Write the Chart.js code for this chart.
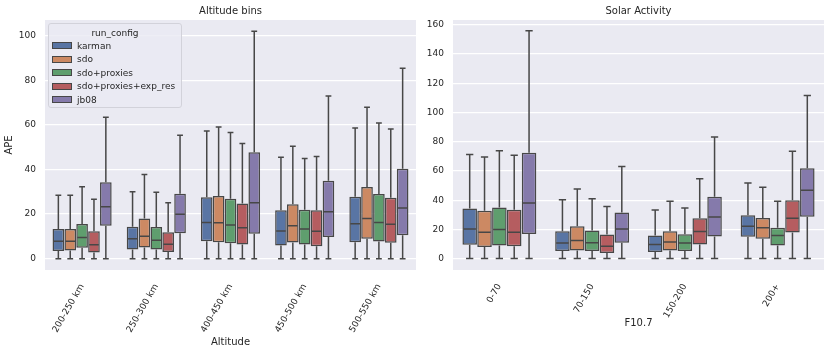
<!DOCTYPE html>
<html>
<head>
<meta charset="utf-8">
<script src="https://cdn.jsdelivr.net/npm/chart.js@4"></script>
<style>
    html, body { margin: 0; padding: 0; background: #fff; overflow: hidden; }
    body { width: 831px; height: 351px; position: relative; font-family: 'DejaVu Sans', sans-serif; }
    .panel { position: absolute; top: 0; height: 351px; }
    #altPanel { left: 0; width: 420px; }
    #solPanel { left: 420px; width: 411px; }
    #legend {
        position: absolute; left: 48px; top: 23px; width: 134px; height: 85px;
        box-sizing: border-box; padding-top: 3px;
        border: 1px solid #d2d2da; border-radius: 3px;
        background: rgba(234, 234, 242, 0.8);
        font: 9px 'DejaVu Sans', sans-serif; color: #262626;
    }
    #legend .title { text-align: center; line-height: 12px; }
    #legend .row { display: flex; align-items: center; height: 13.5px; padding-left: 3px; }
    #legend .swatch { width: 20px; height: 7px; box-sizing: border-box; border: 1px solid #474747; margin-right: 5px; }
</style>
</head>
<body>
<div class="panel" id="altPanel"><canvas id="altChart"></canvas></div>
<div class="panel" id="solPanel"><canvas id="solChart"></canvas></div>
<div id="legend"></div>
<script>
// run configs (hue) and their colours
const RUN_CONFIGS = ['karman', 'sdo', 'sdo+proxies', 'sdo+proxies+exp_res', 'jb08'];
const COLORS = ['#5975A4', '#CC8963', '#5F9E6E', '#B55D60', '#857AAB'];
const LINE_GRAY = '#474747';

// ---- left panel: altitude bins, rows = run config, cols = bin
const ALT_BINS = ['200-250 km', '250-300 km', '400-450 km', '450-500 km', '500-550 km'];
const ALT_TICKS = [0, 20, 40, 60, 80, 100];
const altHi = [
    [28.5, 30.0, 57.3, 45.5, 58.6],
    [28.4, 37.8, 59.1, 50.4, 67.9],
    [32.3, 29.8, 56.6, 44.9, 60.9],
    [26.6, 25.1, 51.7, 45.8, 58.2],
    [63.5, 55.4, 102.0, 73.0, 85.4]
];
const altQ3 = [
    [13.3, 14.3, 27.6, 21.7, 27.8],
    [13.3, 18.0, 28.1, 24.4, 32.2],
    [15.5, 14.2, 26.9, 21.9, 29.0],
    [12.3, 11.8, 24.7, 21.7, 27.3],
    [34.3, 29.1, 47.7, 35.0, 40.3]
];
const altMed = [
    [7.8, 8.9, 16.2, 12.4, 15.7],
    [7.8, 10.0, 16.1, 14.8, 18.0],
    [9.5, 8.3, 15.1, 13.3, 16.2],
    [6.2, 6.5, 13.9, 12.3, 15.4],
    [23.3, 19.9, 25.1, 21.0, 22.7]
];
const altQ1 = [
    [3.4, 4.1, 7.8, 5.9, 7.4],
    [3.7, 5.0, 7.4, 7.2, 8.9],
    [4.9, 4.1, 6.9, 6.4, 7.7],
    [2.7, 3.0, 6.4, 5.6, 7.1],
    [14.8, 11.4, 11.2, 9.7, 10.5]
];
const altLo = [
    [0, 0, 0, 0, 0],
    [0, 0, 0, 0, 0],
    [0, 0, 0, 0, 0],
    [0, 0, 0, 0, 0],
    [0, 0, 0, 0, 0]
];

// ---- right panel: F10.7 bins
const F107_BINS = ['0-70', '70-150', '150-200', '200+'];
const SOL_TICKS = [0, 20, 40, 60, 80, 100, 120, 140, 160];
const solHi = [
    [71.2, 40.2, 33.2, 51.8],
    [69.6, 47.7, 39.3, 48.8],
    [73.9, 40.9, 34.6, 39.3],
    [70.7, 35.7, 54.7, 73.4],
    [156.0, 63.0, 83.2, 111.6]
];
const solQ3 = [
    [34.3, 18.8, 15.8, 29.6],
    [32.8, 22.1, 18.8, 27.8],
    [35.0, 19.2, 16.7, 21.2],
    [33.4, 16.5, 27.6, 40.0],
    [72.5, 31.6, 42.3, 61.9]
];
const solMed = [
    [20.3, 10.6, 9.7, 22.1],
    [18.1, 12.4, 11.3, 21.2],
    [19.9, 10.8, 10.6, 15.8],
    [18.1, 8.4, 18.5, 27.6],
    [38.0, 20.3, 28.5, 46.8]
];
const solQ1 = [
    [9.5, 5.2, 4.5, 14.9],
    [7.9, 5.6, 5.6, 13.6],
    [9.0, 5.2, 5.2, 9.0],
    [8.4, 3.8, 9.7, 17.9],
    [16.9, 10.8, 15.1, 28.7]
];
const solLo = [
    [0, 0, 0, 0],
    [0, 0, 0, 0],
    [0, 0, 0, 0],
    [0, 0, 0, 0],
    [0, 0, 0, 0]
];

const plotBg = {
    id: 'plotBg',
    beforeDraw(chart) {
        const { ctx, chartArea: a } = chart;
        ctx.save();
        ctx.fillStyle = '#EAEAF2';
        ctx.fillRect(a.left, a.top, a.right - a.left, a.bottom - a.top);
        ctx.restore();
    }
};

// whiskers, caps and median lines on top of the IQR bars
const whiskers = {
    id: 'whiskers',
    afterDatasetsDraw(chart) {
        const { ctx } = chart;
        const y = chart.scales.y;
        ctx.save();
        ctx.strokeStyle = LINE_GRAY;
        ctx.lineWidth = 1.5;
        chart.data.datasets.forEach((ds, d) => {
            chart.getDatasetMeta(d).data.forEach((bar, i) => {
                const x = bar.x;
                const half = bar.width / 2;
                const cap = bar.width / 4;
                const yHi = y.getPixelForValue(ds.hi[i]);
                const yLo = y.getPixelForValue(ds.lo[i]);
                const yQ3 = y.getPixelForValue(ds.data[i][1]);
                const yQ1 = y.getPixelForValue(ds.data[i][0]);
                const yMed = y.getPixelForValue(ds.med[i]);
                ctx.beginPath();
                ctx.moveTo(x, yQ3); ctx.lineTo(x, yHi);
                ctx.moveTo(x - cap, yHi); ctx.lineTo(x + cap, yHi);
                ctx.moveTo(x, yQ1); ctx.lineTo(x, yLo);
                ctx.moveTo(x - cap, yLo); ctx.lineTo(x + cap, yLo);
                ctx.moveTo(x - half + 1, yMed); ctx.lineTo(x + half - 1, yMed);
                ctx.stroke();
            });
        });
        ctx.restore();
    }
};

function buildDatasets(q1, q3, med, hi, lo) {
    return RUN_CONFIGS.map((name, k) => ({
        label: name,
        data: q1[k].map((v, i) => [v, q3[k][i]]),
        med: med[k],
        hi: hi[k],
        lo: lo[k],
        backgroundColor: COLORS[k],
        borderColor: LINE_GRAY,
        borderWidth: 1.5,
        borderSkipped: false,
        categoryPercentage: 0.8,
        barPercentage: 0.98
    }));
}

function makeChart(id, cfg) {
    const font = { family: 'DejaVu Sans', size: 9 };
    return new Chart(document.getElementById(id), {
        type: 'bar',
        data: { labels: cfg.labels, datasets: buildDatasets(cfg.q1, cfg.q3, cfg.med, cfg.hi, cfg.lo) },
        options: {
            responsive: true,
            maintainAspectRatio: false,
            animation: false,
            layout: { padding: { left: 0, right: cfg.padRight, top: 0, bottom: cfg.padBottom } },
            plugins: {
                legend: { display: false },
                tooltip: { enabled: false },
                title: {
                    display: true, text: cfg.title, fullSize: false, color: '#262626',
                    font: { family: 'DejaVu Sans', size: 10, weight: 'normal' },
                    padding: { top: 5, bottom: 3 }
                }
            },
            scales: {
                x: {
                    grid: { display: false },
                    border: { display: false },
                    ticks: { color: '#262626', font, minRotation: 60, maxRotation: 60, padding: 4 },
                    title: { display: true, text: cfg.xTitle, color: '#262626', font: { family: 'DejaVu Sans', size: 10 }, padding: { top: 2, bottom: 3 } },
                    afterFit: s => { s.height = cfg.xHeight; }
                },
                y: {
                    min: cfg.yMin,
                    max: cfg.yMax,
                    grid: { color: '#ffffff', lineWidth: 1.2, drawTicks: false },
                    border: { display: false },
                    ticks: { color: '#262626', font, padding: 9 },
                    title: { display: !!cfg.yTitle, text: cfg.yTitle, color: '#262626', font: { family: 'DejaVu Sans', size: 10 }, padding: { top: 3, bottom: 0 } },
                    afterBuildTicks: s => { s.ticks = cfg.ticks.map(v => ({ value: v })); },
                    afterFit: s => { s.width = cfg.yWidth; }
                }
            }
        },
        plugins: [plotBg, whiskers]
    });
}

makeChart('altChart', {
    labels: ALT_BINS, q1: altQ1, q3: altQ3, med: altMed, hi: altHi, lo: altLo,
    title: 'Altitude bins', xTitle: 'Altitude', yTitle: 'APE',
    yMin: -5.1, yMax: 107.1, ticks: ALT_TICKS,
    yWidth: 45, xHeight: 81, padRight: 4, padBottom: 0
});

makeChart('solChart', {
    labels: F107_BINS, q1: solQ1, q3: solQ3, med: solMed, hi: solHi, lo: solLo,
    title: 'Solar Activity', xTitle: 'F10.7', yTitle: '',
    yMin: -7.8, yMax: 163.3, ticks: SOL_TICKS,
    yWidth: 33, xHeight: 62, padRight: 7, padBottom: 19
});

// legend drawn as html over the left plot
const legend = document.getElementById('legend');
legend.innerHTML = '<div class="title">run_config</div>' + RUN_CONFIGS.map((name, k) =>
    `<div class="row"><span class="swatch" style="background:${COLORS[k]}"></span><span>${name}</span></div>`
).join('');
</script>
</body>
</html>
